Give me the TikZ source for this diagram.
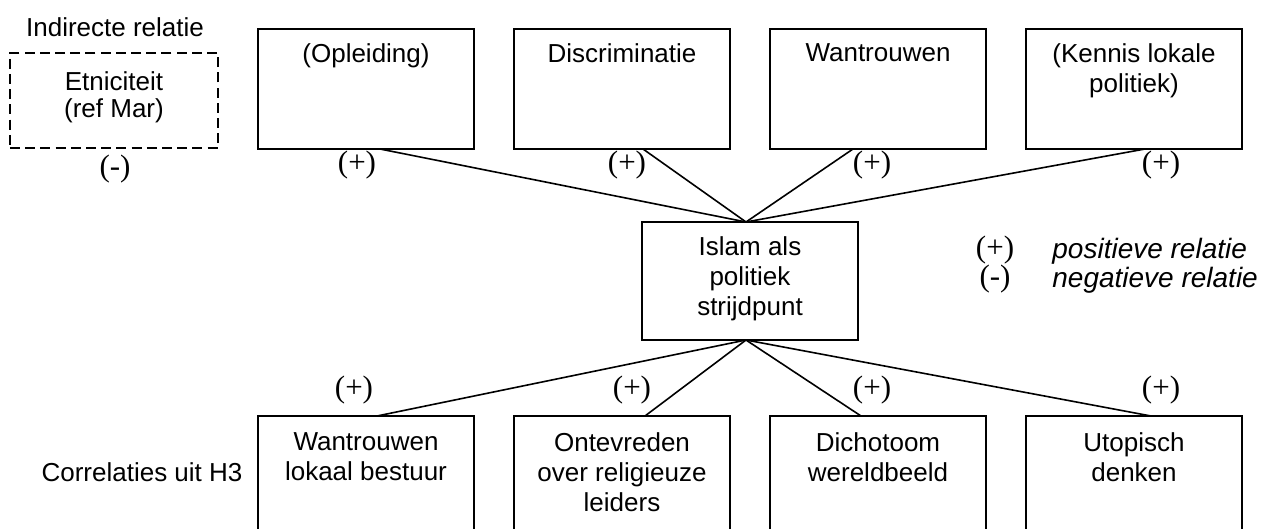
\documentclass[tikz,border=0pt]{standalone}
\usepackage{fontspec}
\setmainfont{Liberation Sans}
\newfontfamily\signfont{Liberation Serif}
\usetikzlibrary{positioning}

\begin{document}
\begin{tikzpicture}[x=0.5pt,y=-0.5pt,
    box/.style={rectangle, draw, line width=0.9pt, outer sep=0pt,
                minimum width=108pt, minimum height=60pt, inner sep=0pt},
    txt/.style={font=\fontsize{13}{15}\selectfont, align=center, inner sep=0pt},
    sign/.style={font=\signfont\fontsize{15.5}{17}\selectfont, inner sep=0pt}]

    \useasboundingbox (0,0) rectangle (1270,529);
    \clip (0,0) rectangle (1270,529);

    % indirect relation
    \node[txt] (ind) at (115,27) {Indirecte relatie};
    \node[box,
          dash pattern=on 5pt off 2.6pt,
          minimum width=104pt,
          minimum height=47.5pt
          ] (etn) at (114,100.5) {};
    \node[txt, font=\fontsize{13}{13.5}\selectfont] at ([yshift=1.5pt]etn.center) {Etniciteit\\(ref Mar)};
    \node[sign] (etnsign) at (115,169) {(-)};

    % top row
    \node[box] (opl) at (366,89) {};
    \node[txt, anchor=north] at ([yshift=-7pt]opl.north) {(Opleiding)};

    \node[box, right=20pt of opl] (dis) {};
    \node[txt, anchor=north] at ([yshift=-7pt]dis.north) {Discriminatie};

    \node[box, right=20pt of dis] (wan) {};
    \node[txt, anchor=north] at ([yshift=-7pt]wan.north) {Wantrouwen};

    \node[box, right=20pt of wan] (ken) {};
    \node[txt, anchor=north] at ([yshift=-7pt]ken.north) {(Kennis lokale\\politiek)};

    \node[sign] (s1) at (357,165) {(+)};
    \node[sign] (s2) at (627,165) {(+)};
    \node[sign] (s3) at (872,165) {(+)};
    \node[sign] (s4) at (1161,165) {(+)};

    % central box
    \node[box, minimum height=59pt] (isl) at (750,281) {};
    \node[txt] at ([yshift=1pt]isl.center) {Islam als\\politiek\\strijdpunt};

    % legend
    \node[sign] (lplus) at (995,250) {(+)};
    \node[sign] (lmin) at (995,279) {(-)};
    \node[txt, font=\fontsize{14}{15}\selectfont\itshape, anchor=base west] at (1052,259) {positieve relatie};
    \node[txt, font=\fontsize{14}{15}\selectfont\itshape, anchor=base west] at (1052,288) {negatieve relatie};

    % bottom row
    \node[txt] (cor) at (142,472) {Correlaties uit H3};

    \node[box, minimum height=65pt] (wlb) at (366,481) {};
    \node[txt, anchor=north] at ([yshift=-8pt]wlb.north) {Wantrouwen\\lokaal bestuur};

    \node[box, minimum height=65pt, right=20pt of wlb] (ore) {};
    \node[txt, anchor=north] at ([yshift=-8pt]ore.north) {Ontevreden\\over religieuze\\leiders};

    \node[box, minimum height=65pt, right=20pt of ore] (dic) {};
    \node[txt, anchor=north] at ([yshift=-8pt]dic.north) {Dichotoom\\wereldbeeld};

    \node[box, minimum height=65pt, right=20pt of dic] (uto) {};
    \node[txt, anchor=north] at ([yshift=-8pt]uto.north) {Utopisch\\denken};

    \node[sign] (b1) at (354,390) {(+)};
    \node[sign] (b2) at (632,390) {(+)};
    \node[sign] (b3) at (872,390) {(+)};
    \node[sign] (b4) at (1161,390) {(+)};

    \path[every edge/.style={draw, line width=0.8pt}]
    %top row to central box
    ([xshift=7pt]opl.south) edge ([xshift=-2pt]isl.north)
    ([xshift=10.5pt]dis.south) edge ([xshift=-2pt]isl.north)
    ([xshift=-12.5pt]wan.south) edge ([xshift=-2pt]isl.north)
    ([xshift=5.5pt]ken.south) edge ([xshift=-2pt]isl.north)
    %central box to bottom row
    ([xshift=-2pt]isl.south) edge ([xshift=5.5pt]wlb.north)
    ([xshift=-2pt]isl.south) edge ([xshift=11.5pt]ore.north)
    ([xshift=-2pt]isl.south) edge ([xshift=-8.5pt]dic.north)
    ([xshift=-2pt]isl.south) edge ([xshift=8.5pt]uto.north);

\end{tikzpicture}
\end{document}
